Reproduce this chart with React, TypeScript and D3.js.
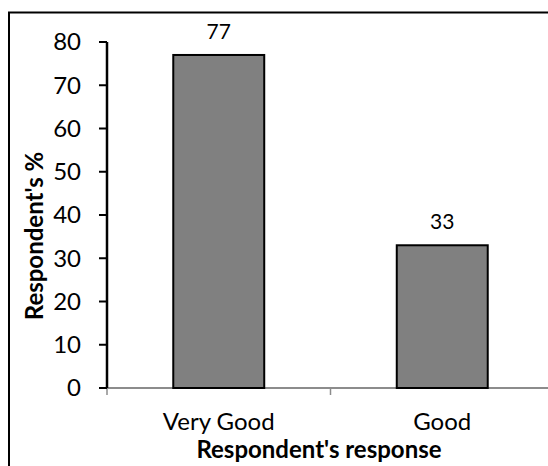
import React from "react";
import * as d3 from "d3";

const categories = ["Very Good", "Good"];
const values = [77, 33];
const yTicks = [0, 10, 20, 30, 40, 50, 60, 70, 80];
const yTitle = "Respondent's %";
const xTitle = "Respondent's response";

const W = 548;
const H = 466;
const FONT = "Lato, 'Open Sans', sans-serif";

export default function App() {
  const x0 = 107;
  const x1 = 554;
  const yBase = 388;
  const yTop = 42;
  const x = d3.scaleBand<string>().domain(categories).range([x0, x1]).paddingInner(0.593).paddingOuter(0.2965);
  const y = d3.scaleLinear().domain([0, 80]).range([yBase, yTop]);
  const step = (x1 - x0) / categories.length;

  return (
    <div style={{ position: "absolute", left: 0, top: 0 }}>
      <svg width={W} height={H} style={{ display: "block" }} fontFamily={FONT}>
        <rect x={0} y={0} width={W} height={H} fill="#fff" />
        <rect x={9} y={12.5} width={W + 20} height={H + 20} fill="none" stroke="#000" strokeWidth={2} />
        {/* x axis */}
        <line x1={x0} x2={x1} y1={yBase} y2={yBase} stroke="#8c8c8c" strokeWidth={2} />
        {categories.map((c, i) => (
          <line key={"xt" + i} x1={x0 + step * i} x2={x0 + step * i} y1={yBase} y2={yBase + 7} stroke="#8c8c8c" strokeWidth={1.5} />
        ))}
        {/* bars */}
        {categories.map((c, i) => (
          <g key={c}>
            <rect
              x={x(c)}
              y={y(values[i])}
              width={x.bandwidth()}
              height={yBase - y(values[i])}
              fill="#808080"
              stroke="#000"
              strokeWidth={2}
            />
            <text x={(x(c) as number) + x.bandwidth() / 2} y={y(values[i]) - 16} textAnchor="middle" fontSize={21} fill="#000">
              {values[i]}
            </text>
            <text x={(x(c) as number) + x.bandwidth() / 2} y={430} textAnchor="middle" fontSize={24} fill="#000">
              {c}
            </text>
          </g>
        ))}
        {/* y axis */}
        <line x1={x0} x2={x0} y1={yTop} y2={yBase} stroke="#000" strokeWidth={2.5} />
        {yTicks.map((t) => (
          <g key={t}>
            <line x1={x0 - 8} x2={x0} y1={y(t)} y2={y(t)} stroke="#000" strokeWidth={2} />
            <text x={81} y={y(t)} dy="0.35em" textAnchor="end" fontSize={24} fill="#000">
              {t}
            </text>
          </g>
        ))}
        <text x={319} y={458} textAnchor="middle" fontSize={24} fontWeight="bold" fill="#000">
          {xTitle}
        </text>
        <text transform={`translate(43, 236) rotate(-90)`} textAnchor="middle" fontSize={24} fontWeight="bold" fill="#000">
          {yTitle}
        </text>
      </svg>
    </div>
  );
}
